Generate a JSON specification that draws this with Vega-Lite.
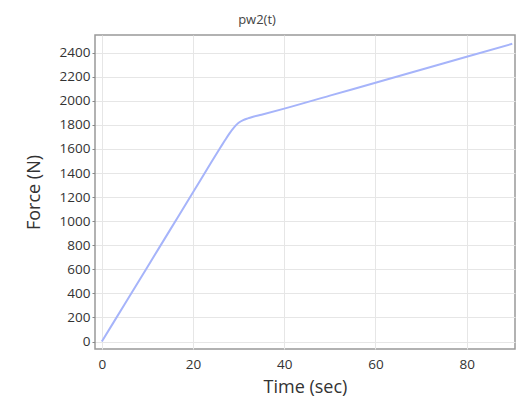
{
  "$schema": "https://vega.github.io/schema/vega-lite/v6.json",
  "width": 420,
  "height": 314,
  "autosize": {"type": "none"},
  "padding": {"left": 95, "top": 35, "right": 1, "bottom": 51},
  "background": "white",
  "title": {
    "text": "pw2(t)",
    "anchor": "middle",
    "frame": "group",
    "dx": -48,
    "offset": 8,
    "fontSize": 13,
    "fontWeight": "normal",
    "font": "Open Sans",
    "color": "#444"
  },
  "config": {
    "view": {"stroke": "#999", "strokeWidth": 1.5},
    "axis": {
      "labelFont": "Open Sans",
      "titleFont": "Open Sans",
      "labelFontSize": 13.5,
      "labelColor": "#333",
      "titleColor": "#333",
      "titleFontSize": 18,
      "titleFontWeight": "normal",
      "gridColor": "#e6e6e6",
      "gridWidth": 1,
      "domain": false,
      "tickColor": "#888",
      "tickSize": 3
    }
  },
  "data": {
    "values": [
      {"t": 0, "F": 0},
      {"t": 5, "F": 310},
      {"t": 10, "F": 620},
      {"t": 15, "F": 930},
      {"t": 20, "F": 1240},
      {"t": 24, "F": 1490},
      {"t": 26, "F": 1612},
      {"t": 27, "F": 1672},
      {"t": 28, "F": 1730},
      {"t": 29, "F": 1780},
      {"t": 30, "F": 1818},
      {"t": 31, "F": 1840},
      {"t": 32, "F": 1854},
      {"t": 33, "F": 1866},
      {"t": 35, "F": 1885},
      {"t": 40, "F": 1935},
      {"t": 50, "F": 2043},
      {"t": 60, "F": 2150},
      {"t": 70, "F": 2258},
      {"t": 80, "F": 2366},
      {"t": 90, "F": 2474}
    ]
  },
  "mark": {"type": "line", "color": "#a6b4fa", "strokeWidth": 2, "interpolate": "monotone", "clip": true},
  "encoding": {
    "x": {
      "field": "t",
      "type": "quantitative",
      "scale": {"domain": [-1.5, 90.6], "nice": false, "zero": false},
      "axis": {"values": [0, 20, 40, 60, 80], "format": "d", "title": "Time (sec)", "ticks": false, "labelPadding": 8, "titlePadding": 8}
    },
    "y": {
      "field": "F",
      "type": "quantitative",
      "scale": {"domain": [-62, 2547], "nice": false, "zero": false},
      "axis": {"values": [0, 200, 400, 600, 800, 1000, 1200, 1400, 1600, 1800, 2000, 2200, 2400], "format": "d", "title": "Force (N)", "labelPadding": 2, "titlePadding": 16}
    }
  }
}
